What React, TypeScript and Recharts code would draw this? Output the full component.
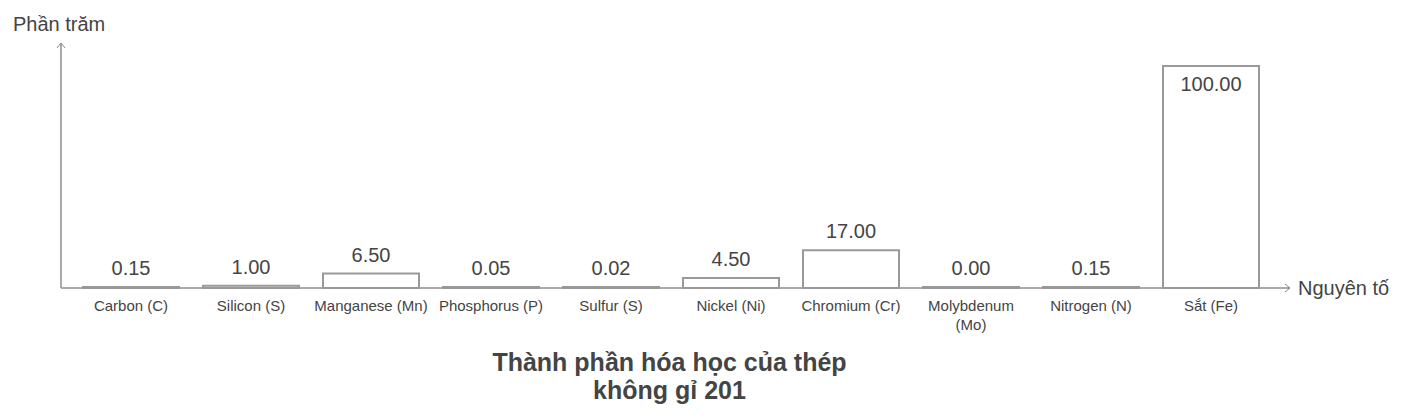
import * as R from 'recharts';
import { BarChart, Bar, XAxis, YAxis, LabelList, Text } from 'recharts';

const elements = [
  'Carbon (C)',
  'Silicon (S)',
  'Manganese (Mn)',
  'Phosphorus (P)',
  'Sulfur (S)',
  'Nickel (Ni)',
  'Chromium (Cr)',
  'Molybdenum (Mo)',
  'Nitrogen (N)',
  'Sắt (Fe)',
];
const percents = [0.15, 1.0, 6.5, 0.05, 0.02, 4.5, 17.0, 0.0, 0.15, 100.0];
const yDomainMax = 107.2;

const data = elements.map((name, i) => ({ name, value: percents[i] }));

const FONT = 'Arial, "Liberation Sans", Helvetica, sans-serif';
const GRAY = '#999';
const AXIS = '#aaa';
const TEXT = '#444';

function CategoryTick(props: any) {
  const { x, y, payload } = props;
  return (
    <Text
      x={x}
      y={y + 4}
      width={116}
      textAnchor="middle"
      verticalAnchor="start"
      fontSize={15}
      fontFamily={FONT}
      fill={TEXT}
      lineHeight={19}
    >
      {payload.value}
    </Text>
  );
}

function ValueLabel(props: any) {
  const { x, y, width, value } = props;
  // labels that would leave the plot go inside the bar
  const inside = y < 80;
  return (
    <text
      x={x + width / 2}
      y={inside ? y + 25 : y - 12}
      textAnchor="middle"
      fontSize={20}
      fontFamily={FONT}
      fill={TEXT}
    >
      {Number(value).toFixed(2)}
    </text>
  );
}

function AxisDecor() {
  const area = (R as any).usePlotArea ? (R as any).usePlotArea() : null;
  const left = area ? area.x : 61;
  const top = area ? area.y : 50;
  const right = area ? area.x + area.width : 1290;
  const bottom = area ? area.y + area.height : 288;
  const cx = (left + right) / 2 - 6;
  return (
    <g>
      <line x1={left} y1={bottom} x2={left} y2={top - 7} stroke={AXIS} strokeWidth={2} />
      <polyline
        points={`${left - 4},${top - 2} ${left},${top - 7} ${left + 4},${top - 2}`}
        fill="none"
        stroke="#888"
        strokeWidth={1}
      />
      <line x1={left} y1={bottom} x2={right} y2={bottom} stroke={AXIS} strokeWidth={2} />
      <polyline
        points={`${right - 5},${bottom - 4} ${right},${bottom} ${right - 5},${bottom + 4}`}
        fill="none"
        stroke="#888"
        strokeWidth={1}
      />
      <text x={left - 48} y={top - 19} fontSize={20} fontFamily={FONT} fill={TEXT}>
        Phần trăm
      </text>
      <text x={right + 8} y={bottom + 7} fontSize={20} fontFamily={FONT} fill={TEXT}>
        Nguyên tố
      </text>
      <text
        x={cx}
        y={bottom + 83}
        textAnchor="middle"
        fontSize={25}
        fontWeight="bold"
        fontFamily={FONT}
        fill={TEXT}
      >
        <tspan x={cx} dy={0}>Thành phần hóa học của thép</tspan>
        <tspan x={cx} dy={28}>không gỉ 201</tspan>
      </text>
    </g>
  );
}

export default function App() {
  return (
    <div style={{ position: 'absolute', left: 0, top: 0, width: 1404, height: 420, background: '#fff' }}>
      <BarChart
        width={1404}
        height={420}
        data={data}
        margin={{ top: 50, right: 114, left: 61, bottom: 92 }}
        barCategoryGap={12}
      >
        <XAxis
          dataKey="name"
          axisLine={false}
          tickLine={false}
          interval={0}
          height={40}
          padding={{ left: 10, right: 19 }}
          tick={<CategoryTick />}
        />
        <YAxis width={0} domain={[0, yDomainMax]} tick={false} tickLine={false} axisLine={false} />
        <Bar
          dataKey="value"
          fill="#fff"
          stroke={GRAY}
          strokeWidth={2}
          minPointSize={1}
          isAnimationActive={false}
        >
          <LabelList dataKey="value" content={<ValueLabel />} />
        </Bar>
        <AxisDecor />
      </BarChart>
    </div>
  );
}
